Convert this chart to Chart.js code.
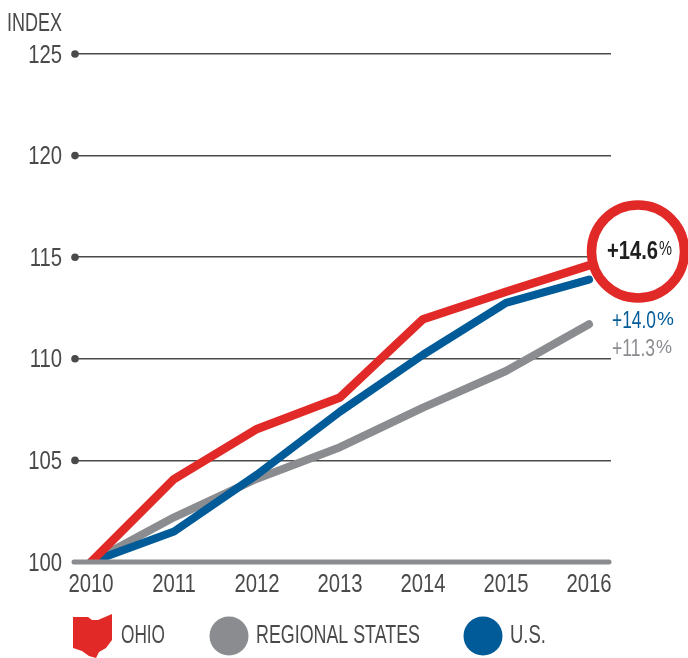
<!DOCTYPE html>
<html><head><meta charset="utf-8">
<style>html,body{margin:0;padding:0;background:#fff}canvas{display:block}</style>
<script src="https://cdn.jsdelivr.net/npm/chart.js@4"></script></head>
<body><canvas id="c" width="688" height="658"></canvas>
<script>
const years=[2010,2011,2012,2013,2014,2015,2016];
const ohio=[100,104.08,106.55,108.1,111.95,113.3,114.6];
const regional=[100,102.2,104.1,105.65,107.6,109.4,111.7];
const us=[100,101.5,104.3,107.4,110.2,112.75,113.9];
const yTicks=[100,105,110,115,120,125];
const RED='#e12a27',GREY='#8a8c90',BLUE='#005b98',INK='#4a4a4a';
const FONT='"Liberation Sans",sans-serif';
const toXY=a=>a.map((v,i)=>({x:years[i],y:v}));
// No condensed face is installed: squeeze all canvas text horizontally.
const canvas=document.getElementById('c');
const rawCtx=canvas.getContext('2d');
const rawFill=rawCtx.fillText.bind(rawCtx);
rawCtx.fillText=function(t,x,y,mw){
  const s=String(t);
  const digits=/^\d+$/.test(s);
  rawFill(s,x,digits?y+1.5:y,mw!==undefined?mw:rawCtx.measureText(s).width*(digits?0.78:0.72));
};
function valueText(ctx,main,x,y,color,weight,size,mainW,pctSize,pctW,rise){
  ctx.fillStyle=color;ctx.textAlign='left';ctx.textBaseline='alphabetic';
  ctx.font=`${weight} ${size}px ${FONT}`;ctx.fillText(main,x,y,mainW);
  ctx.font=`normal ${pctSize}px ${FONT}`;ctx.fillText('%',x+mainW+1,y-rise,pctW);
}
const deco={id:'deco',
 beforeDatasetsDraw(chart){
  const {ctx,scales:{y}}=chart;ctx.save();ctx.fillStyle=INK;
  yTicks.slice(1).forEach(v=>{ctx.beginPath();ctx.arc(75,y.getPixelForValue(v),3.8,0,Math.PI*2);ctx.fill();});
  ctx.restore();
 },
 afterDatasetsDraw(chart){
  const {ctx,scales:{y}}=chart;ctx.save();
  ctx.strokeStyle=GREY;ctx.lineWidth=5;ctx.lineCap='round';
  const p=y.getPixelForValue(100);ctx.beginPath();ctx.moveTo(74,p);ctx.lineTo(609,p);ctx.stroke();
  ctx.beginPath();ctx.arc(638,251.5,46.5,0,Math.PI*2);ctx.fillStyle='#fff';ctx.fill();
  ctx.lineWidth=9.5;ctx.strokeStyle=RED;ctx.stroke();
  valueText(ctx,'+14.6',607,259,'#1f1f1f','bold',25,51,20,13,4);
  valueText(ctx,'+14.0',612,328,BLUE,'normal',24,44,19,17,3);
  valueText(ctx,'+11.3',612,356,GREY,'normal',24,43,19,16,3);
  ctx.fillStyle=INK;ctx.textAlign='left';ctx.textBaseline='middle';
  ctx.font=`normal 26px ${FONT}`;ctx.fillText('INDEX',7,24,55);
  // legend
  ctx.fillStyle=RED;ctx.beginPath();
  [[73,617],[88,617],[92,620],[98,620],[112,614],[112,640],[106,648],[99,652],[96,658],[89,656],[82,651],[73,648]].forEach((q,i)=>i?ctx.lineTo(q[0],q[1]):ctx.moveTo(q[0],q[1]));
  ctx.closePath();ctx.fill();
  ctx.fillStyle=GREY;ctx.beginPath();ctx.arc(229,636,19.5,0,Math.PI*2);ctx.fill();
  ctx.fillStyle=BLUE;ctx.beginPath();ctx.arc(483,636,19.5,0,Math.PI*2);ctx.fill();
  ctx.fillStyle=INK;ctx.font=`normal 25px ${FONT}`;ctx.textBaseline='middle';
  ctx.fillText('OHIO',121,636,44);ctx.fillText('REGIONAL STATES',256,636,164);ctx.fillText('U.S.',510,636,36);
  ctx.restore();
 }};
new Chart(canvas,{
 type:'line',
 data:{datasets:[
  {label:'Ohio',data:toXY(ohio),borderColor:RED,borderWidth:8.5,pointRadius:0,tension:0,borderCapStyle:'butt',borderJoinStyle:'round'},
  {label:'U.S.',data:toXY(us),borderColor:BLUE,borderWidth:8,pointRadius:0,tension:0,borderCapStyle:'round',borderJoinStyle:'round'},
  {label:'Regional States',data:toXY(regional),borderColor:GREY,borderWidth:8,pointRadius:0,tension:0,borderCapStyle:'round',borderJoinStyle:'round'}
 ]},
 options:{responsive:false,animation:false,
  layout:{padding:{top:54,right:77,left:0,bottom:0}},
  plugins:{legend:{display:false},tooltip:{enabled:false}},
  scales:{
   x:{type:'linear',min:2009.807,max:2016.265,
    afterBuildTicks:s=>{s.ticks=years.map(v=>({value:v}));},
    afterFit:s=>{s.height=96;},
    border:{display:false},grid:{display:false},
    ticks:{autoSkip:false,maxRotation:0,color:INK,padding:-2,font:{family:FONT,size:26},callback:v=>String(v)}},
   y:{min:100,max:125,
    afterBuildTicks:s=>{s.ticks=yTicks.map(v=>({value:v}));},
    afterFit:s=>{s.width=75;},
    border:{display:false},
    grid:{drawTicks:false,color:c=>c.tick.value===100?'rgba(0,0,0,0)':INK,lineWidth:1.5},
    ticks:{color:INK,padding:13,font:{family:FONT,size:26},callback:v=>String(v)}}
  }},
 plugins:[deco]
});
</script></body></html>
